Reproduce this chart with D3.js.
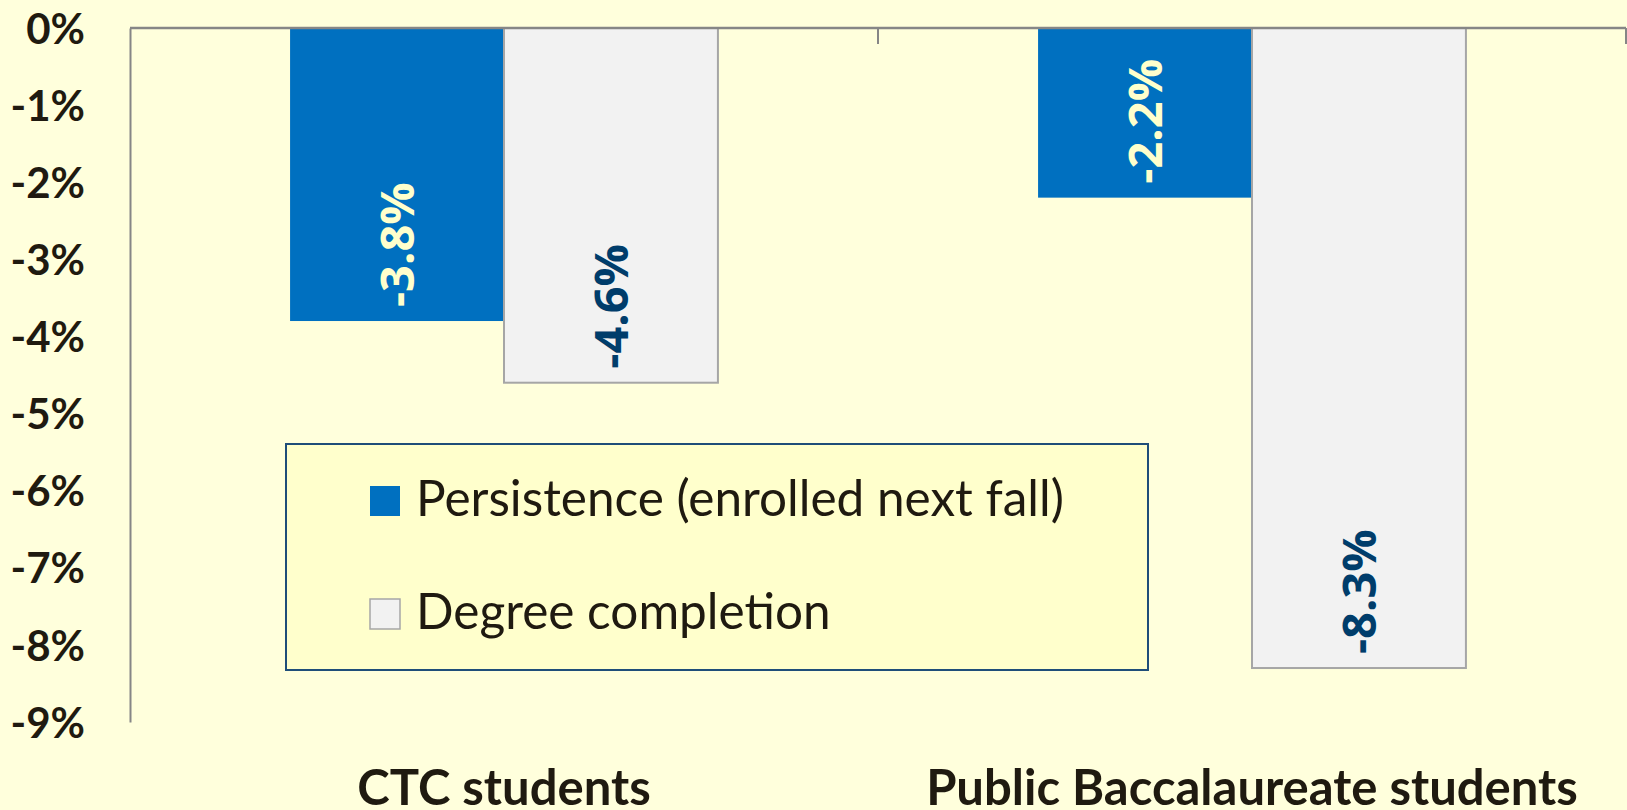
<!DOCTYPE html>
<html>
<head>
<meta charset="utf-8">
<script src="https://cdn.jsdelivr.net/npm/d3@7"></script>
<style>
  html, body { margin: 0; padding: 0; background: #FFFFDC; }
  svg { display: block; }
  .y.axis text { font-family: Lato, sans-serif; font-weight: bold; font-size: 42px; fill: #1F1A10; }
  .cat-label { font-family: Lato, sans-serif; font-weight: bold; font-size: 49px; fill: #1F1A10; }
  .legend text { font-family: Lato, sans-serif; font-size: 49.5px; fill: #1F1A10; }
  .bar-label { font-family: "Open Sans", sans-serif; font-weight: bold; font-size: 47px; }
</style>
</head>
<body>
<div class="chart"></div>
<script>
// Data
const categories = ['CTC students', 'Public Baccalaureate students'];
const seriesNames = ['Persistence (enrolled next fall)', 'Degree completion'];
const persistence = [-3.8, -2.2];
const completion = [-4.6, -8.3];
const yTicks = [0, -1, -2, -3, -4, -5, -6, -7, -8, -9];

const colors = { 'Persistence (enrolled next fall)': '#0070C0', 'Degree completion': '#F2F2F2' };
const labelColors = { 'Persistence (enrolled next fall)': '#FFFFCC', 'Degree completion': '#003D6B' };

// table for the grouped bars
const barData = [];
categories.forEach((c, i) => {
	barData.push({ cat: c, series: seriesNames[0], value: persistence[i] });
	barData.push({ cat: c, series: seriesNames[1], value: completion[i] });
});

// plain hyphen instead of unicode minus
const fmtPct = v => (v < 0 ? '-' : '') + Math.abs(v).toFixed(1) + '%';

// Dimensions
const W = 1627, H = 810;
const margin = { top: 28, right: 1, bottom: 88, left: 130 };
const width = W - margin.left - margin.right;
const height = H - margin.top - margin.bottom;

const svg = d3.select('.chart')
	.append('svg')
	.attr('width', W)
	.attr('height', H);

svg.append('rect').attr('width', W).attr('height', H).attr('fill', '#FFFFDC');

const g = svg.append('g')
	.attr('transform', `translate(${margin.left}, ${margin.top})`);

// Scales
const x0 = d3.scaleBand()
	.domain(categories)
	.range([0, width])
	.paddingInner(0)
	.paddingOuter(0);

const groupPad = 0.214;
const x1 = d3.scaleBand()
	.domain(seriesNames)
	.range([x0.bandwidth() * groupPad, x0.bandwidth() * (1 - groupPad)])
	.padding(0);

const yScale = d3.scaleLinear()
	.domain([-9, 0])
	.range([height, 0]);

// y axis
const yAxis = d3.axisLeft(yScale)
	.tickValues(yTicks)
	.tickFormat(d => (d < 0 ? '-' : '') + Math.abs(d) + '%')
	.tickSize(0)
	.tickPadding(45);

const yAxisDraw = g.append('g')
	.attr('class', 'y axis')
	.call(yAxis);
yAxisDraw.select('.domain').attr('stroke', '#868686').attr('stroke-width', 2);
yAxisDraw.selectAll('text').attr('dy', '0.36em');

// bars
g.append('g')
	.selectAll('.bar')
	.data(barData)
	.enter()
	.append('rect')
	.attr('class', 'bar')
	.attr('x', d => x0(d.cat) + x1(d.series))
	.attr('y', yScale(0))
	.attr('width', x1.bandwidth())
	.attr('height', d => yScale(d.value) - yScale(0))
	.attr('fill', d => colors[d.series])
	.attr('stroke', d => d.series === seriesNames[1] ? '#A6A6A6' : 'none')
	.attr('stroke-width', 2);

// x axis at zero, ticks pointing down at category boundaries
const xAxisG = g.append('g').attr('class', 'x axis');
xAxisG.append('line')
	.attr('x1', 0).attr('x2', width)
	.attr('y1', yScale(0)).attr('y2', yScale(0))
	.attr('stroke', '#868686').attr('stroke-width', 2.5);
const bounds = categories.map(c => x0(c)).concat([width]);
xAxisG.selectAll('.xtick')
	.data(bounds.slice(1))
	.enter()
	.append('line')
	.attr('class', 'xtick')
	.attr('x1', d => d).attr('x2', d => d)
	.attr('y1', yScale(0)).attr('y2', yScale(0) + 16)
	.attr('stroke', '#868686').attr('stroke-width', 2);

// category labels
g.selectAll('.cat-label')
	.data(categories)
	.enter()
	.append('text')
	.attr('class', 'cat-label')
	.attr('x', d => x0(d) + x0.bandwidth() / 2)
	.attr('y', height + 83)
	.attr('text-anchor', 'middle')
	.text(d => d);

// bar labels, rotated, sitting at the inside end
g.selectAll('.bar-label')
	.data(barData)
	.enter()
	.append('text')
	.attr('class', 'bar-label')
	.attr('transform', d => {
		const cx = x0(d.cat) + x1(d.series) + x1.bandwidth() / 2;
		const cy = yScale(d.value) - 14;
		return `translate(${cx}, ${cy}) rotate(-90)`;
	})
	.attr('dy', '0.36em')
	.attr('text-anchor', 'start')
	.attr('fill', d => labelColors[d.series])
	.text(d => fmtPct(d.value));

// legend
const legend = svg.append('g')
	.attr('class', 'legend')
	.attr('transform', 'translate(286, 444)');

legend.append('rect')
	.attr('width', 862)
	.attr('height', 226)
	.attr('fill', '#FFFFCC')
	.attr('stroke', '#1F4E79')
	.attr('stroke-width', 2);

const item = legend.selectAll('.legend-item')
	.data(seriesNames)
	.enter()
	.append('g')
	.attr('class', 'legend-item')
	.attr('transform', (d, i) => `translate(84, ${42 + i * 113})`);

item.append('rect')
	.attr('width', 30)
	.attr('height', 30)
	.attr('fill', d => colors[d])
	.attr('stroke', d => d === seriesNames[1] ? '#A6A6A6' : 'none')
	.attr('stroke-width', 1.5);

item.append('text')
	.attr('x', 46)
	.attr('y', 30)
	.text(d => d);
</script>
</body>
</html>
